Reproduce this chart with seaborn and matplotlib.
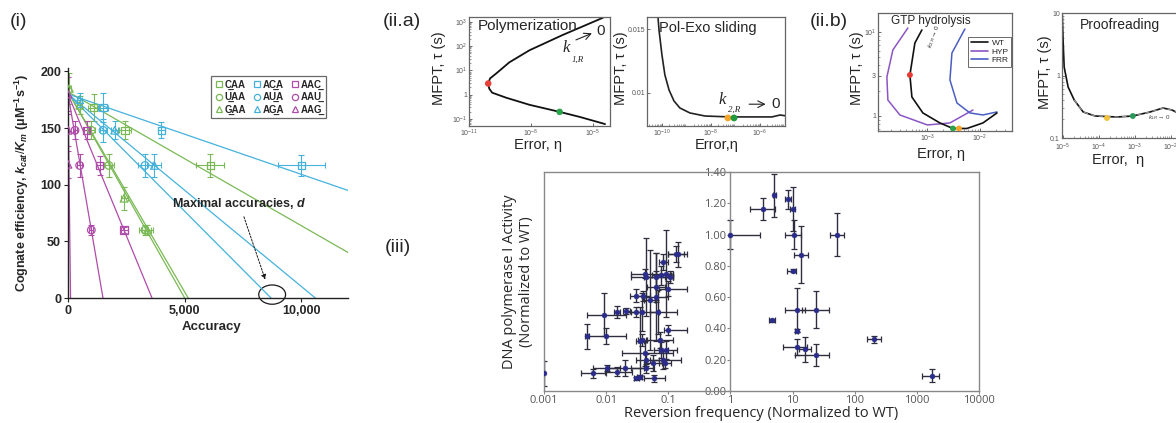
import numpy as np
import pandas as pd
import matplotlib
matplotlib.use("Agg")
import matplotlib.pyplot as plt
from matplotlib.lines import Line2D
from matplotlib.patches import Ellipse
from matplotlib.ticker import NullFormatter, FixedLocator
import seaborn as sns

# ---------------- Panel (i) data ----------------
codon_labels = ["C\u0332AA", "U\u0332AA", "G\u0332AA",
                "AC\u0332A", "AU\u0332A", "AG\u0332A",
                "AAC\u0332", "AAU\u0332", "AAG\u0332"]
eff_at_zero = [182, 182, 182, 180, 180, 180, 180, 180, 180]
max_accuracy = [15400, 5000, 5150, 25400, 8700, 10600, 3600, 1500, 110]
acc_pts = [[1100, 2450, 6100], [1000, 1750, 3300], [60, 500, 2400, 3400],
           [1500, 4000, 10000], [1500, 3300], [500, 2000, 3700],
           [800, 1350, 2400], [300, 500, 1000], [0, 0, 0]]
acc_err = [[250, 250, 600], [150, 200, 250], [60, 100, 150, 250],
           [200, 150, 1000], [150, 300], [100, 150, 300],
           [120, 150, 150], [100, 100, 80], [50, 50, 50]]
eff_pts = [[168, 148, 117], [148, 117, 60], [185, 170, 88, 60],
           [168, 148, 117], [148, 117], [175, 148, 117],
           [148, 117, 60], [148, 117, 60], [180, 148, 118]]
eff_err = [[12, 8, 10], [8, 10, 4], [14, 8, 10, 4],
           [13, 7, 9], [10, 10], [6, 8, 10],
           [8, 8, 3], [8, 10, 4], [15, 14, 12]]

# ---------------- Panel (ii.a) data ----------------
poly_log_err = [-4.51, -6.46, -8.07, -9.05, -9.68, -9.98, -10.07, -10.02, -9.88, -9.2, -8.07, -6.61, -5.63, -4.41]
poly_log_tau = [3.17, 2.46, 1.83, 1.33, 0.875, 0.67, 0.46, 0.25, 0.083, -0.125, -0.417, -0.708, -0.917, -1.21]
poly_marks_err = [-10.07, -6.61]
poly_marks_tau = [0.46, -0.708]

slide_log_err = [-10.2, -10.12, -10.0, -9.88, -9.71, -9.51, -9.27, -8.86, -8.24, -7.22, -6.2, -5.51, -5.18, -4.9]
slide_tau = [0.01688, 0.01492, 0.01297, 0.01141, 0.01023, 0.00938, 0.00883, 0.00844, 0.0082, 0.00813, 0.00813, 0.00813, 0.00828, 0.0082]
slide_marks_err = [-7.31, -7.06]
slide_marks_tau = [0.00805, 0.00805]

# ---------------- Panel (ii.b) data ----------------
wt_log_err = [-3.105, -3.238, -3.333, -3.295, -3.086, -2.762, -2.514, -2.248, -1.943, -1.676]
wt_log_tau = [1.024, 0.869, 0.488, 0.226, 0.036, -0.083, -0.149, -0.149, -0.083, 0.036]
hyp_log_err = [-3.371, -3.657, -3.771, -3.752, -3.524, -3.0, -2.571, -2.133]
hyp_log_tau = [1.048, 0.786, 0.464, 0.19, 0.012, -0.107, -0.083, 0.071]
frr_log_err = [-2.286, -2.533, -2.571, -2.438, -2.19, -1.943, -1.676]
frr_log_tau = [1.036, 0.75, 0.429, 0.155, 0.036, 0.012, 0.048]
gtp_marks_err = [-3.333, -2.514, -2.4]
gtp_marks_tau = [0.488, -0.149, -0.149]

proof_log_err = [-5.03, -5.0, -4.97, -4.86, -4.69, -4.44, -4.11, -3.5, -3.06, -2.58, -2.22, -1.97, -1.75]
proof_log_tau = [1.128, 0.568, 0.136, -0.184, -0.392, -0.584, -0.648, -0.664, -0.648, -0.584, -0.52, -0.552, -0.616]
proof_marks_err = [-3.78, -3.06]
proof_marks_tau = [-0.68, -0.648]

# ---------------- Panel (iii) data ----------------
rev_freq = [1.0, 3.33, 5.1, 8.5, 10.0, 10.4, 13.6, 10.0, 52, 11.7, 24, 4.75, 11.7, 11.7, 15.9, 24, 207, 1766,
            0.001, 0.0049, 0.0098, 0.0093, 0.0152, 0.0212, 0.0062, 0.0105, 0.0152, 0.0204, 0.0307, 0.0346,
            0.0307, 0.0378, 0.0445, 0.0503, 0.0378, 0.0418, 0.0445, 0.0569, 0.0644, 0.0644, 0.0644, 0.0686,
            0.073, 0.0777, 0.0824, 0.0875, 0.093, 0.093, 0.099, 0.105, 0.144, 0.135, 0.099, 0.0824, 0.0395,
            0.0418, 0.0777, 0.06, 0.0445, 0.0307, 0.035]
rev_lo = [1.0, 2.1, 4.8, 7.5, 9.2, 7.6, 10.5, 8.2, 40, 7.5, 14, 4.2, 11.0, 7.0, 12.5, 11.0, 160, 1230,
          0.001, 0.0046, 0.0049, 0.0049, 0.0135, 0.019, 0.0040, 0.0062, 0.0095, 0.011, 0.028, 0.031,
          0.024, 0.021, 0.025, 0.040, 0.033, 0.018, 0.030, 0.040, 0.040, 0.045, 0.040, 0.050,
          0.045, 0.060, 0.050, 0.070, 0.070, 0.075, 0.070, 0.090, 0.100, 0.100, 0.085, 0.070, 0.030,
          0.025, 0.055, 0.040, 0.025, 0.025, 0.030]
rev_hi = [3.0, 5.2, 5.4, 9.5, 10.9, 13.5, 17.5, 11.5, 66, 16, 39, 5.3, 12.4, 17, 20, 39, 260, 2300,
          0.001, 0.0053, 0.021, 0.021, 0.017, 0.024, 0.0101, 0.017, 0.026, 0.040, 0.034, 0.038,
          0.043, 0.070, 0.120, 0.062, 0.043, 0.120, 0.070, 0.080, 0.120, 0.090, 0.100, 0.140,
          0.120, 0.100, 0.160, 0.110, 0.140, 0.120, 0.200, 0.120, 0.200, 0.180, 0.200, 0.100, 0.050,
          0.120, 0.110, 0.090, 0.060, 0.038, 0.040]
pol_act = [1.00, 1.166, 1.25, 1.225, 1.166, 1.0, 0.872, 0.77, 1.0, 0.52, 0.52, 0.453, 0.385, 0.283, 0.268, 0.23, 0.33, 0.098,
           0.113, 0.351, 0.351, 0.489, 0.506, 0.51, 0.113, 0.145, 0.123, 0.145, 0.081, 0.087,
           0.609, 0.506, 0.73, 0.58, 0.326, 0.24, 0.198, 0.177, 0.73, 0.666, 0.602, 0.506,
           0.326, 0.262, 0.198, 0.177, 0.262, 0.751, 0.655, 0.73, 0.874, 0.874, 0.389, 0.826, 0.608,
           0.75, 0.74, 0.08, 0.145, 0.506, 0.32]
pol_err = [0.09, 0.07, 0.14, 0.06, 0.14, 0.09, 0.18, 0.01, 0.14, 0.14, 0.12, 0.01, 0.01, 0.05, 0.08, 0.07, 0.02, 0.04,
           0.08, 0.08, 0.05, 0.14, 0.04, 0.02, 0.03, 0.02, 0.03, 0.05, 0.01, 0.01,
           0.04, 0.12, 0.25, 0.32, 0.04, 0.08, 0.04, 0.05, 0.15, 0.10, 0.28, 0.14,
           0.05, 0.05, 0.06, 0.03, 0.06, 0.28, 0.05, 0.04, 0.08, 0.05, 0.03, 0.05, 0.03,
           0.03, 0.06, 0.02, 0.03, 0.03, 0.22]
x_ticks_iii = [0.001, 0.01, 0.1, 1, 10, 100, 1000, 10000]
x_ticklabels_iii = ["0.001", "0.01", "0.1", "1", "10", "100", "1000", "10000"]
y_ticks_iii = [0.0, 0.2, 0.4, 0.6, 0.8, 1.0, 1.2, 1.4]

# ---------------- style ----------------
sns.set_theme(style="white")
plt.rcParams['font.family'] = ['Liberation Sans', 'DejaVu Sans']
plt.rcParams['mathtext.fontset'] = 'custom'
plt.rcParams['mathtext.rm'] = 'Liberation Sans'
plt.rcParams['mathtext.it'] = 'Liberation Sans:italic'
plt.rcParams['mathtext.bf'] = 'Liberation Sans:bold'
plt.rcParams['mathtext.bfit'] = 'Liberation Sans:italic:bold'

W, H = 1176, 423
fig = plt.figure(figsize=(W / 100, H / 100), dpi=100)


def px_rect(l, t, r, b):
    return [l / W, 1 - b / H, (r - l) / W, (b - t) / H]


def fx(x):
    return x / W


def fy(y):
    return 1 - y / H


GREEN, CYAN, MAGENTA = "#7ab955", "#45b2dc", "#b04ca9"
codon_colors = [GREEN] * 3 + [CYAN] * 3 + [MAGENTA] * 3
codon_markers = ["s", "o", "^"] * 3

# ================= Panel (i) =================
ax1 = fig.add_axes(px_rect(68, 68, 348, 298))
for i in range(9):
    c, m = codon_colors[i], codon_markers[i]
    d, y0 = max_accuracy[i], eff_at_zero[i]
    xe = min(d, 12000)
    line_df = pd.DataFrame({"acc": [0, xe], "eff": [y0, y0 * (1 - xe / d)]})
    sns.lineplot(data=line_df, x="acc", y="eff", color=c, lw=0.9, ax=ax1,
                 estimator=None, sort=False, legend=False)
    ax1.errorbar(acc_pts[i], eff_pts[i], xerr=acc_err[i], yerr=eff_err[i], fmt='none',
                 ecolor=c, elinewidth=0.8, capsize=2.5, capthick=0.8, zorder=2)
    sns.scatterplot(x=acc_pts[i], y=eff_pts[i], marker=m, s=30, color=c,
                    facecolor='none', edgecolor=c, linewidth=0.9, ax=ax1, zorder=3, legend=False)
ax1.set_xlim(0, 12000)
ax1.set_ylim(0, 203)
ax1.set_xticks([0, 5000, 10000])
ax1.set_xticklabels(["0", "5,000", "10,000"])
ax1.set_yticks([0, 50, 100, 150, 200])
ax1.tick_params(bottom=True, left=True, length=3, width=0.8, color="#222", labelsize=9, pad=2)
for lab in ax1.get_xticklabels() + ax1.get_yticklabels():
    lab.set_fontweight('bold')
for s in ["top", "right"]:
    ax1.spines[s].set_visible(False)
for s in ["left", "bottom"]:
    ax1.spines[s].set_color("#222")
    ax1.spines[s].set_linewidth(1.0)
ax1.set_xlabel("")
ax1.set_ylabel("")
handles = [Line2D([], [], marker=codon_markers[i], ls='none', mfc='none', mec=codon_colors[i],
                  mew=0.9, ms=4.5) for i in range(9)]
leg = ax1.legend(handles, codon_labels, ncol=3, loc='upper right', bbox_to_anchor=(0.92, 0.965),
                 borderaxespad=0, frameon=True, fancybox=False, edgecolor="#444",
                 prop={'weight': 'bold', 'size': 7}, handletextpad=0.1, columnspacing=0.6,
                 labelspacing=0.25, borderpad=0.35, handlelength=1.0)
leg.get_frame().set_linewidth(0.9)
ax1.text(4450, 83, r"Maximal accuracies, $\mathbfit{d}$", fontsize=9, fontweight='bold', va='center')
ax1.annotate("", xy=(8490, 14), xytext=(7500, 74),
             arrowprops=dict(arrowstyle='-|>', ls=(0, (2, 1.5)), lw=0.7, color='k',
                             mutation_scale=7))
ax1.add_patch(Ellipse((8750, 3), width=1150, height=17, fill=False, ec='k', lw=0.9, clip_on=False))
fig.text(fx(212), fy(327), "Accuracy", fontsize=9.5, fontweight='bold', ha='center', va='center')
fig.text(fx(22), fy(183), r"Cognate efficiency, $\mathbfit{k}_{\mathbfit{cat}}/\mathbfit{K}_{\mathbfit{m}}$ (μM$^{\mathbf{-1}}$s$^{\mathbf{-1}}$)",
         fontsize=9, fontweight='bold', rotation=90, ha='center', va='center')

# panel labels
fig.text(fx(10), fy(22), "(i)", fontsize=14, va='center')
fig.text(fx(383), fy(22), "(ii.a)", fontsize=14, va='center')
fig.text(fx(810), fy(22), "(ii.b)", fontsize=14, va='center')
fig.text(fx(385), fy(247), "(iii)", fontsize=14, va='center')


def small_axes_style(ax):
    ax.tick_params(which='both', bottom=True, left=True, direction='in', labelsize=5,
                   labelcolor="#555", color="#555", pad=1.5)
    ax.tick_params(which='major', length=2.5, width=0.6)
    ax.tick_params(which='minor', length=1.3, width=0.4)
    for s in ax.spines.values():
        s.set_color("#666")
        s.set_linewidth(0.9)
    ax.set_xlabel("")
    ax.set_ylabel("")
    ax.xaxis.set_minor_formatter(NullFormatter())
    ax.yaxis.set_minor_formatter(NullFormatter())


def curve(ax, lx, ly, color, lw=1.3, ylog=True):
    x = 10 ** np.array(lx)
    y = 10 ** np.array(ly) if ylog else np.array(ly)
    df = pd.DataFrame({"x": x, "y": y})
    sns.lineplot(data=df, x="x", y="y", sort=False, estimator=None, color=color, lw=lw, ax=ax, legend=False)


# ================= Panel (ii.a) Polymerization =================
ax2 = fig.add_axes(px_rect(469, 17, 610, 126))
curve(ax2, poly_log_err, poly_log_tau, "#111")
ax2.set_xscale('log'); ax2.set_yscale('log')
sns.scatterplot(x=10 ** np.array(poly_marks_err), y=10 ** np.array(poly_marks_tau),
                hue=["red", "green"], palette={"red": "#e8403a", "green": "#2aa44a"},
                s=22, edgecolor='none', ax=ax2, legend=False, zorder=4)
ax2.set_xlim(10 ** -11, 10 ** -4.17)
ax2.set_ylim(10 ** -1.29, 10 ** 3.2)
small_axes_style(ax2)
ax2.xaxis.set_major_locator(FixedLocator([1e-11, 1e-8, 1e-5]))
ax2.set_xticklabels([r"$10^{-11}$", r"$10^{-8}$", r"$10^{-5}$"])
ax2.yaxis.set_major_locator(FixedLocator([0.1, 1, 10, 100, 1000]))
ax2.set_yticklabels([r"$10^{-1}$", "1", r"$10^{1}$", r"$10^{2}$", r"$10^{3}$"])
ax2.text(0.06, 0.92, "Polymerization", transform=ax2.transAxes, fontsize=11, va='center')
ax2.text(0.66, 0.72, "k", transform=ax2.transAxes, fontsize=12, family='Liberation Serif', style='italic', va='center')
ax2.text(0.73, 0.61, "1,R", transform=ax2.transAxes, fontsize=6.5, family='Liberation Serif', style='italic', va='center')
ax2.annotate("", xy=(0.89, 0.86), xytext=(0.74, 0.78), xycoords='axes fraction',
             arrowprops=dict(arrowstyle='->', lw=0.8, color='#222'))
ax2.text(0.9, 0.87, "0", transform=ax2.transAxes, fontsize=11, va='center')
fig.text(fx(439), fy(68), "MFPT, τ (s)", fontsize=10.5, rotation=90, ha='center', va='center')
fig.text(fx(538), fy(145), "Error, η", fontsize=10.5, ha='center', va='center')

# ================= Panel (ii.a) Pol-Exo sliding =================
ax3 = fig.add_axes(px_rect(647, 17, 785, 126))
curve(ax3, slide_log_err, slide_tau, "#222", lw=1.2, ylog=False)
ax3.set_xscale('log')
sns.scatterplot(x=10 ** np.array(slide_marks_err), y=slide_marks_tau,
                hue=["orange", "green"], palette={"orange": "#f4a52a", "green": "#1f9a3c"},
                s=24, edgecolor='none', ax=ax3, legend=False, zorder=4)
ax3.set_xlim(10 ** -10.61, 10 ** -4.98)
ax3.set_ylim(0.00742, 0.01594)
small_axes_style(ax3)
ax3.xaxis.set_major_locator(FixedLocator([1e-10, 1e-8, 1e-6]))
ax3.set_xticklabels([r"$10^{-10}$", r"$10^{-8}$", r"$10^{-6}$"])
ax3.set_yticks([0.01, 0.015])
ax3.set_yticklabels(["0.01", "0.015"])
ax3.text(0.09, 0.9, "Pol-Exo sliding", transform=ax3.transAxes, fontsize=10.5, va='center')
ax3.text(0.52, 0.24, "k", transform=ax3.transAxes, fontsize=12, family='Liberation Serif', style='italic', va='center')
ax3.text(0.59, 0.15, "2,R", transform=ax3.transAxes, fontsize=6.5, family='Liberation Serif', style='italic', va='center')
ax3.annotate("", xy=(0.88, 0.2), xytext=(0.72, 0.2), xycoords='axes fraction',
             arrowprops=dict(arrowstyle='->', lw=0.8, color='#222'))
ax3.text(0.9, 0.2, "0", transform=ax3.transAxes, fontsize=11, va='center')
fig.text(fx(621), fy(68), "MFPT, τ (s)", fontsize=10.5, rotation=90, ha='center', va='center')
fig.text(fx(717), fy(145), "Error,η", fontsize=10.5, ha='center', va='center')

# ================= Panel (ii.b) GTP hydrolysis =================
ax4 = fig.add_axes(px_rect(878, 13, 1012, 131))
curve(ax4, hyp_log_err, hyp_log_tau, "#8c55c4", lw=1.1)
curve(ax4, frr_log_err, frr_log_tau, "#4a5ec2", lw=1.1)
curve(ax4, wt_log_err, wt_log_tau, "#111", lw=1.2)
ax4.set_xscale('log'); ax4.set_yscale('log')
sns.scatterplot(x=10 ** np.array(gtp_marks_err), y=10 ** np.array(gtp_marks_tau),
                hue=["red", "green", "orange"],
                palette={"red": "#e53b35", "green": "#2aa44a", "orange": "#f4a52a"},
                s=18, edgecolor='none', ax=ax4, legend=False, zorder=4)
ax4.set_xlim(10 ** -3.94, 10 ** -1.39)
ax4.set_ylim(10 ** -0.179, 10 ** 1.226)
small_axes_style(ax4)
ax4.xaxis.set_major_locator(FixedLocator([1e-3, 1e-2]))
ax4.set_xticklabels([r"$10^{-3}$", r"$10^{-2}$"])
ax4.yaxis.set_major_locator(FixedLocator([1, 3, 10]))
ax4.set_yticklabels(["1", "3", r"$10^{1}$"])
gtp_handles = [Line2D([], [], color=c, lw=1.2) for c in ["#111", "#8c55c4", "#4a5ec2"]]
lg4 = ax4.legend(gtp_handles, ["WT", "HYP", "FRR"], loc='upper right', bbox_to_anchor=(0.995, 0.8),
                 fontsize=6, frameon=True, fancybox=False, edgecolor="#444", borderaxespad=0,
                 handlelength=2.0, labelspacing=0.1, borderpad=0.3, handletextpad=0.5)
lg4.get_frame().set_linewidth(0.7)
ax4.text(0.1, 0.93, "GTP hydrolysis", transform=ax4.transAxes, fontsize=8.5, va='center')
ax4.text(0.36, 0.8, r"$k_{2,R}\rightarrow 0$", transform=ax4.transAxes, fontsize=4.5, rotation=70, va='center')
fig.text(fx(857), fy(68), "MFPT, τ (s)", fontsize=10.5, rotation=90, ha='center', va='center')
fig.text(fx(941), fy(154), "Error, η", fontsize=10.5, ha='center', va='center')

# ================= Panel (ii.b) Proofreading =================
ax5 = fig.add_axes(px_rect(1062, 13, 1200, 138))
curve(ax5, proof_log_err, proof_log_tau, "#111", lw=1.2)
curve(ax5, proof_log_err[4:], proof_log_tau[4:], "#9a9a9a", lw=0.8)
ax5.lines[-1].set_linestyle((0, (4, 3)))
ax5.set_xscale('log'); ax5.set_yscale('log')
sns.scatterplot(x=10 ** np.array(proof_marks_err), y=10 ** np.array(proof_marks_tau),
                hue=["orange", "green"], palette={"orange": "#f2c23a", "green": "#2a9a5a"},
                s=18, edgecolor='none', ax=ax5, legend=False, zorder=4)
ax5.set_xlim(10 ** -5.03, 10 ** -1.19)
ax5.set_ylim(0.1, 10)
small_axes_style(ax5)
ax5.xaxis.set_major_locator(FixedLocator([1e-5, 1e-4, 1e-3, 1e-2]))
ax5.set_xticklabels([r"$10^{-5}$", r"$10^{-4}$", r"$10^{-3}$", r"$10^{-2}$"])
ax5.yaxis.set_major_locator(FixedLocator([0.1, 1, 10]))
ax5.set_yticklabels(["0.1", "1", "10"])
ax5.tick_params(axis='x', pad=3)
ax5.text(0.42, 0.9, "Proofreading", transform=ax5.transAxes, fontsize=10, ha='center', va='center')
ax5.text(0.62, 0.16, r"$k_{LR}\rightarrow 0$", transform=ax5.transAxes, fontsize=4.5, va='center', color="#444")
fig.text(fx(1045), fy(72), "MFPT, τ (s)", fontsize=10.5, rotation=90, ha='center', va='center')
fig.text(fx(1118), fy(160), "Error,  η", fontsize=10.5, ha='center', va='center')

# ================= Panel (iii) =================
ax6 = fig.add_axes(px_rect(544, 172, 979, 391))
rf = np.array(rev_freq)
xerr = [rf - np.array(rev_lo), np.array(rev_hi) - rf]
ax6.errorbar(rf, pol_act, xerr=xerr, yerr=pol_err, fmt='none', ecolor="#2e2e3e",
             elinewidth=1.0, capsize=2.2, capthick=0.9, zorder=2)
sns.scatterplot(x=rf, y=pol_act, color="#2b2b8c", edgecolor="#2b2b8c", s=13, ax=ax6, zorder=3, legend=False)
ax6.set_xscale('log')
ax6.set_xlim(0.001, 10000)
ax6.set_ylim(0, 1.4)
ax6.xaxis.set_major_locator(FixedLocator(x_ticks_iii))
ax6.set_xticklabels(x_ticklabels_iii)
ax6.xaxis.set_minor_formatter(NullFormatter())
ax6.tick_params(axis='x', which='minor', bottom=False)
ax6.set_yticks(y_ticks_iii)
ax6.set_yticklabels([f"{v:.2f}" for v in y_ticks_iii])
ax6.spines['left'].set_position(('data', 1))
for s in ax6.spines.values():
    s.set_color("#888")
    s.set_linewidth(1.0)
ax6.plot([0, 0], [0, 1], transform=ax6.transAxes, color="#888", lw=1.0, clip_on=False)
ax6.tick_params(bottom=True, left=True, length=2, width=0.8, color="#888",
                labelsize=8, labelcolor="#555", pad=1)
for lab in ax6.get_xticklabels() + ax6.get_yticklabels():
    lab.set_family(['Open Sans', 'DejaVu Sans'])
ax6.set_xlabel("")
ax6.set_ylabel("")
fig.text(fx(518), fy(282), "DNA polymerase I Activity\n(Normalized to WT)", fontsize=10.5,
         family=['Open Sans', 'DejaVu Sans'], rotation=90, ha='center', va='center', linespacing=1.1)
fig.text(fx(761), fy(413), "Reversion frequency (Normalized to WT)", fontsize=10.5,
         family=['Open Sans', 'DejaVu Sans'], ha='center', va='center')

fig.savefig("out.png", dpi=100)
